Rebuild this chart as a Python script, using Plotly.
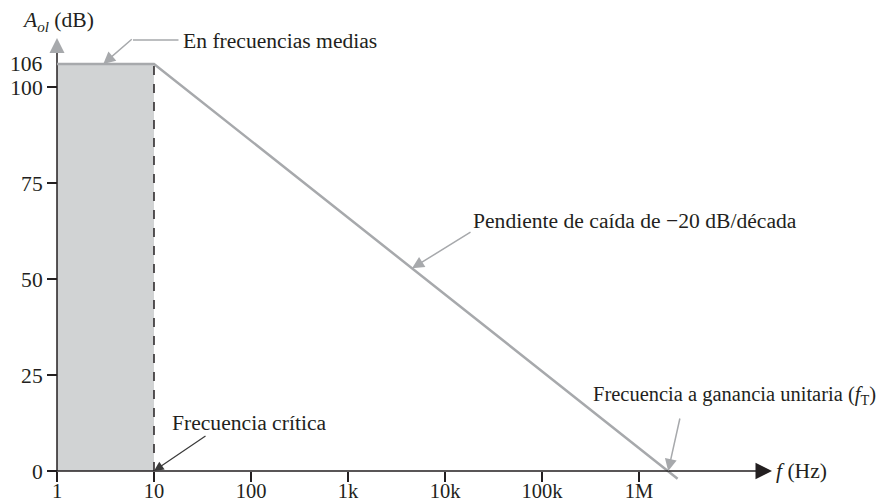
import math
import plotly.graph_objects as go

# ---------------- data ----------------
freq_hz = [1, 10, 2.5e6]          # open-loop response corner points
gain_db = [106, 106, -2]
band_freq = [1, 10]               # shaded mid-band region
band_gain = [106, 106]
f_critical = 10
f_unity = 2e6
x_tickvals = [1, 10, 100, 1e3, 1e4, 1e5, 1e6]
x_ticktext = ["1", "10", "100", "1k", "10k", "100k", "1M"]
y_tickvals = [0, 25, 50, 75, 100]
y_ticktext = ["0", "25", "50", "75", "100"]
y_extra_label = 106

# ---------------- layout geometry ----------------
OFF = 8                         # page body margin of the html page
W, H = 888 - OFF, 504 - OFF
PX_LEFT, PX_RIGHT, PX_TOP, PX_BOT = OFF, 888, OFF, 504
X0_PX, DEC_PX = 57, 97        # pixel of f=1 Hz, pixels per decade
Y0_PX, DB_PX = 471, 3.84      # pixel of 0 dB, pixels per dB

xr = [(PX_LEFT - X0_PX) / DEC_PX, (PX_RIGHT - X0_PX) / DEC_PX]
yr = [(Y0_PX - PX_BOT) / DB_PX, (Y0_PX - PX_TOP) / DB_PX]


def px2x(px):
    return (px - X0_PX) / DEC_PX


def py2y(py):
    return (Y0_PX - py) / DB_PX


DARK = "#231f20"
GRAY = "#a7a9ac"
FILL = "#d1d3d4"
FONT = "Liberation Serif"
FS = 21.6

fig = go.Figure()

fig.add_trace(go.Scatter(x=band_freq, y=band_gain, mode="lines", fill="tozeroy",
                         fillcolor=FILL, line=dict(width=0), hoverinfo="skip",
                         showlegend=False))
fig.add_trace(go.Scatter(x=[f_critical, f_critical], y=[0, band_gain[-1]], mode="lines",
                         line=dict(color=DARK, width=1.5, dash="dash"),
                         showlegend=False))
# y axis line
fig.add_trace(go.Scatter(x=[band_freq[0], band_freq[0]], y=[0, py2y(48)], mode="lines",
                         line=dict(color=DARK, width=1.5), showlegend=False))
fig.add_trace(go.Scatter(x=freq_hz, y=gain_db, mode="lines",
                         line=dict(color=GRAY, width=2.5), showlegend=False))

ann = []
# x-axis line with arrow
ann.append(dict(x=px2x(772), y=0, ax=px2x(46), ay=0, axref="x", ayref="y",
                xref="x", yref="y", text="", showarrow=True, arrowhead=2,
                arrowsize=2.2, arrowwidth=1.5, arrowcolor=DARK, standoff=0))
# y-axis arrow head
ann.append(dict(x=0, y=py2y(38), ax=0, ay=10, xref="x", yref="y", text="",
                showarrow=True, arrowhead=2, arrowsize=2, arrowwidth=1.5,
                arrowcolor=GRAY, standoff=0))
# 106 label
ann.append(dict(x=px2x(45), y=y_extra_label, xref="x", yref="y", text=str(y_extra_label),
                showarrow=False, xanchor="right", yanchor="middle",
                font=dict(family=FONT, size=FS, color=DARK)))
# axis titles
ann.append(dict(x=px2x(20), y=py2y(21), xref="x", yref="y",
                text="<i>A<sub>ol</sub></i> (dB)", showarrow=False,
                xanchor="left", yanchor="middle",
                font=dict(family=FONT, size=FS, color=DARK)))
ann.append(dict(x=px2x(774), y=0, xref="x", yref="y",
                text="<i>f</i> (Hz)", showarrow=False,
                xanchor="left", yanchor="middle",
                font=dict(family=FONT, size=FS, color=DARK)))

# En frecuencias medias
ann.append(dict(x=px2x(181), y=py2y(41), xref="x", yref="y",
                text="En frecuencias medias", showarrow=False,
                xanchor="left", yanchor="middle",
                font=dict(family=FONT, size=FS, color=DARK)))
ann.append(dict(x=px2x(133), y=py2y(40), ax=47, ay=0, xref="x", yref="y", text="",
                showarrow=True, arrowhead=0, arrowwidth=1.5, arrowcolor=GRAY, standoff=0))
ann.append(dict(x=math.log10(3), y=band_gain[0], ax=30, ay=-26, xref="x", yref="y",
                text="", showarrow=True, arrowhead=2, arrowsize=1.6, arrowwidth=1.5,
                arrowcolor=GRAY, standoff=0))

# Frecuencia crítica
ann.append(dict(x=px2x(170), y=py2y(423), xref="x", yref="y",
                text="Frecuencia crítica", showarrow=False,
                xanchor="left", yanchor="middle",
                font=dict(family=FONT, size=FS, color=DARK)))
ann.append(dict(x=math.log10(f_critical), y=0, ax=53, ay=-36, xref="x", yref="y",
                text="", showarrow=True, arrowhead=2, arrowsize=1.6, arrowwidth=1.2,
                arrowcolor="#3a3a3a", standoff=0))

# Pendiente
slope_x = px2x(412)
slope_y = gain_db[1] + (gain_db[2] - gain_db[1]) * (slope_x - math.log10(freq_hz[1])) / (
    math.log10(freq_hz[2]) - math.log10(freq_hz[1]))
ann.append(dict(x=px2x(471), y=py2y(221), xref="x", yref="y",
                text="Pendiente de caída de −20 dB/década", showarrow=False,
                xanchor="left", yanchor="middle",
                font=dict(family=FONT, size=FS, color=DARK)))
ann.append(dict(x=slope_x, y=slope_y, ax=60, ay=-37, xref="x", yref="y",
                text="", showarrow=True, arrowhead=2, arrowsize=1.6, arrowwidth=1.5,
                arrowcolor=GRAY, standoff=0))

# Frecuencia a ganancia unitaria
ann.append(dict(x=px2x(878), y=py2y(395), xref="x", yref="y",
                text="Frecuencia a ganancia unitaria (<i>f</i><sub>T</sub>)",
                showarrow=False, xanchor="right", yanchor="middle",
                font=dict(family=FONT, size=20.5, color=DARK)))
ann.append(dict(x=math.log10(f_unity), y=0, ax=12, ay=-54, xref="x", yref="y",
                text="", showarrow=True, arrowhead=2, arrowsize=1.6, arrowwidth=1.5,
                arrowcolor=GRAY, standoff=0))

fig.update_layout(
    width=W, height=H,
    margin=dict(l=0, r=0, t=0, b=0, pad=0, autoexpand=False),
    paper_bgcolor="white", plot_bgcolor="white",
    showlegend=False,
    annotations=ann,
    xaxis=dict(type="log", range=xr, anchor="free",
               position=(0 - yr[0]) / (yr[1] - yr[0]),
               tickvals=x_tickvals, ticktext=x_ticktext,
               ticks="outside", ticklen=10, tickwidth=1.5, tickcolor=DARK,
               ticklabelstandoff=-9,
               showline=False, showgrid=False, zeroline=False, automargin=False,
               tickfont=dict(family=FONT, size=20.5, color=DARK)),
    yaxis=dict(range=yr, anchor="free",
               position=(0 - xr[0]) / (xr[1] - xr[0]),
               tickvals=y_tickvals, ticktext=y_ticktext,
               ticks="outside", ticklen=10, tickwidth=1.5, tickcolor=DARK,
               showline=False, showgrid=False, zeroline=False, automargin=False,
               tickfont=dict(family=FONT, size=FS, color=DARK)),
)

fig.write_html("out.html")
